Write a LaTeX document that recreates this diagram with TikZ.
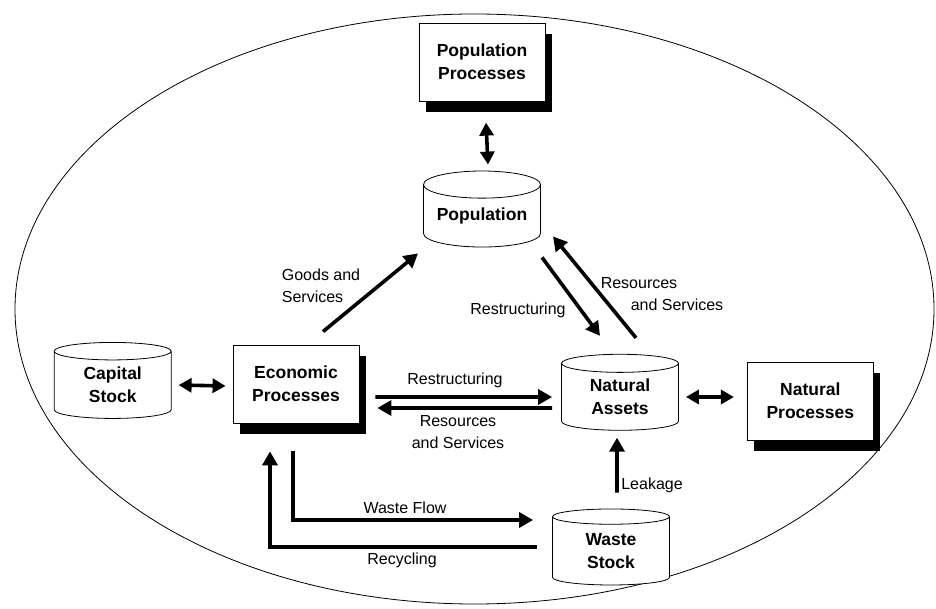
\documentclass[tikz,border=0pt]{standalone}
\usepackage{fontspec}
\setmainfont{Liberation Sans}
\usetikzlibrary{positioning,shapes.geometric,shadows,arrows.meta}

\begin{document}
\begin{tikzpicture}[x=1pt,y=1pt,
        stock/.style={cylinder, shape border rotate=90, aspect=0.3, draw, thick, fill=white, minimum width=117pt, minimum height=76pt, inner sep=0pt, align=center, font=\fontsize{17.5}{23}\selectfont\bfseries},
        process/.style={rectangle, draw, thick, fill=white, minimum width=126pt, minimum height=78pt, align=center, font=\fontsize{17.5}{23}\selectfont\bfseries, drop shadow={shadow xshift=7pt, shadow yshift=-11pt, fill=black, opacity=1}},
        flow/.style={line width=3.6pt, -{Triangle[length=14pt,width=15pt]}},
        twoway/.style={line width=3.6pt, {Triangle[length=13pt,width=14pt]}-{Triangle[length=13pt,width=14pt]}},
        flowlabel/.style={font=\fontsize{16}{22}\selectfont, inner sep=0pt}
    ]
    \useasboundingbox (0,0) rectangle (936,608);
    \draw[thick] (474.5,299) ellipse [x radius=459.5, y radius=295];

    % stocks and processes
    \node[stock] (pop) at (482,392) {Population};
    \node[process] (poppro) [above=69pt of pop] {Population\\Processes};
    \node[process] (eco) at (296,224) {Economic\\Processes};
    \node[stock] (cap) [left=61pt of eco, yshift=-1pt] {Capital\\Stock};
    \node[stock] (nat) at (620,211) {Natural\\Assets};
    \node[process] (natpro) [right=68pt of nat, yshift=-4pt] {Natural\\Processes};
    \node[stock] (waste) at (611,57) {Waste\\Stock};

    % flows
    \draw[twoway] ([xshift=4pt,yshift=-21pt]poppro.south) -- ([xshift=6pt,yshift=6pt]pop.north);
    \draw[twoway] ([xshift=7pt]cap.east) -- ([xshift=-7pt,yshift=-2pt]eco.west);
    \draw[twoway] ([xshift=7pt]nat.east) -- ([xshift=-13pt,yshift=4pt]natpro.west);

    \draw[flow] ([xshift=27pt,yshift=13pt]eco.north) -- ([xshift=-64pt,yshift=-6pt]pop.south);
    \draw[flow] ([xshift=60pt,yshift=-10pt]pop.south) -- ([xshift=-20pt,yshift=18pt]nat.north);
    \draw[flow] ([xshift=16pt,yshift=16pt]nat.north) -- ([xshift=71pt,yshift=11pt]pop.south);

    \draw[flow] ([xshift=16pt,yshift=-13pt]eco.east) -- ([xshift=-9pt]nat.west);
    \draw[flow] ([xshift=-9pt,yshift=-11pt]nat.west) -- ([xshift=18pt,yshift=-24pt]eco.east);

    \draw[flow] ([xshift=-3pt,yshift=-28pt]eco.south) |- ([xshift=-19pt,yshift=31pt]waste.west);
    \draw[flow] ([xshift=-15pt,yshift=4pt]waste.west) -| ([xshift=-26pt,yshift=-28pt]eco.south);
    \draw[flow] ([xshift=6pt,yshift=16pt]waste.north) -- ([xshift=-3pt,yshift=-7pt]nat.south);

    % labels
    \node[flowlabel, align=left] (goodslbl) at (321,322) {Goods and\\Services};
    \node[flowlabel] (restr1) at (518,298) {Restructuring};
    \node[flowlabel, align=left] (res1) at (662,314) {Resources\\\hspace*{30pt}and Services};
    \node[flowlabel] (restr2) at (455,228) {Restructuring};
    \node[flowlabel, align=center] (res2) at (458,176) {Resources\\and Services};
    \node[flowlabel] (wastelbl) at (405,100) {Waste Flow};
    \node[flowlabel] (recyc) at (402,48) {Recycling};
    \node[flowlabel] (leak) at (652,123) {Leakage};
\end{tikzpicture}
\end{document}
